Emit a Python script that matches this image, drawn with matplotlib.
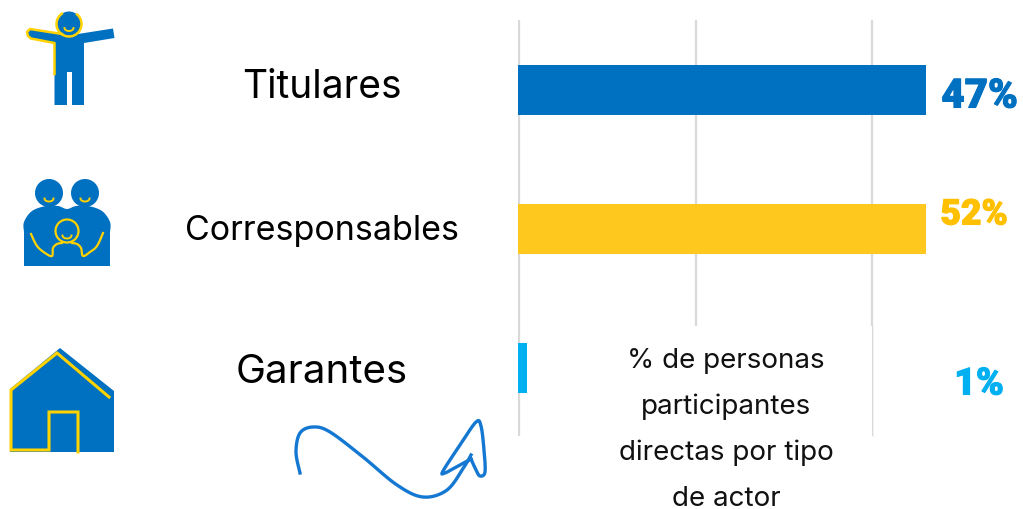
import numpy as np
import matplotlib
matplotlib.use("Agg")
import matplotlib.pyplot as plt
import matplotlib.patheffects as pe
from matplotlib.patches import Circle, Polygon, Rectangle

# ----------------------- Datos ------------------------
actores = ["Titulares", "Corresponsables", "Garantes"]
porcentajes = [47, 52, 1]
colores = ["#0070C0", "#FFC81E", "#00B0F0"]
colores_etiqueta = ["#0070C0", "#FFC000", "#00B0F0"]
nota = ["% de personas", "participantes", "directas por tipo", "de actor"]

AZUL = "#0070C0"
AMARILLO = "#FFD200"
W, H = 1023, 510
FUENTE = "Inter"

fig = plt.figure(figsize=(W / 100, H / 100), dpi=100, facecolor="white")

# ----------------------- Barras ------------------------
# el eje termina en 47, por eso la barra de 52 queda recortada igual que en el original
ax = fig.add_axes([518 / W, 1 - 437 / H, (926 - 518) / W, (437 - 21) / H])
ax.barh(range(3), porcentajes, height=0.36, color=colores, zorder=3)
ax.set_xlim(0, 47)
ax.set_ylim(2.49, -0.504)
ax.set_xticks([0.1, 20.5, 40.8])
ax.set_yticks([])
ax.tick_params(length=0, labelbottom=False)
ax.grid(axis="x", color="#D9D9D9", linewidth=1.6, zorder=0)
ax.set_axisbelow(True)
ax.patch.set_alpha(0)
for s in ax.spines.values():
    s.set_visible(False)

# ----------------------- Capa en pixeles ------------------------
capa = fig.add_axes([0, 0, 1, 1], zorder=5)
capa.set_xlim(0, W)
capa.set_ylim(H - 1, -1)
capa.axis("off")
capa.patch.set_alpha(0)

# caja blanca de la nota, tapa la rejilla
capa.add_patch(Rectangle((529, 326), 343, 112, fc="white", ec="none", zorder=1))
capa.plot([873, 873], [326, 437], color="#F2F2F2", lw=0.8, zorder=1)

def suave(pts, n=12):
    # curva que pasa por los puntos (catmull-rom)
    p = np.array(pts, dtype=float)
    p = np.vstack([p[0], p, p[-1]])
    out = []
    for i in range(1, len(p) - 2):
        for t in np.linspace(0, 1, n, endpoint=False):
            a = 2 * p[i] + (p[i + 1] - p[i - 1]) * t
            b = (2 * p[i - 1] - 5 * p[i] + 4 * p[i + 1] - p[i + 2]) * t ** 2
            c = (3 * p[i] - p[i - 1] - 3 * p[i + 1] + p[i + 2]) * t ** 3
            out.append(0.5 * (a + b + c))
    out.append(p[-2])
    return np.array(out)

def sonrisa(x, y, ancho=4.5, alto=3):
    t = np.linspace(0, np.pi, 20)
    capa.plot(x + ancho * np.cos(t), y + alto * np.sin(t), color=AMARILLO, lw=1.4, zorder=4)

# ----------------------- Icono titular ------------------------
capa.add_patch(Circle((69, 24), 12.5, fc=AZUL, ec="none", zorder=2))
cuerpo = [(54.5, 43), (31, 38.5), (28, 36), (27, 32), (30, 29), (62, 34), (78, 34), (113, 28.5), (114.5, 38),
          (84, 43), (84, 105), (72, 105), (72, 72), (67, 72), (67, 105), (54.5, 105)]
capa.add_patch(Polygon(cuerpo, closed=True, fc=AZUL, ec="none", zorder=2))
t = np.radians(np.linspace(125, 410, 40))
capa.plot(69 + 12.5 * np.cos(t), 24 - 12.5 * np.sin(t), color=AMARILLO, lw=1.8, zorder=3)
capa.plot([62, 30, 27, 28, 31, 54.5, 54.5], [34, 29, 32, 36, 38.5, 43, 74], color=AMARILLO, lw=1.8, zorder=3)
sonrisa(69, 28)

# ----------------------- Icono corresponsables ------------------------
capa.add_patch(Circle((49, 193), 14, fc=AZUL, ec="none", zorder=2))
capa.add_patch(Circle((85, 193), 14, fc=AZUL, ec="none", zorder=2))
hombros = suave([(24, 232), (24, 222), (32, 211), (46, 206), (58, 206), (67, 209), (76, 206), (88, 206),
                 (102, 211), (110, 222), (110, 232)])
capa.add_patch(Polygon(np.vstack([hombros, [(110, 266), (24, 266)]]), closed=True, fc=AZUL, ec="none", zorder=2))
izq = suave([(31, 234), (37, 246), (45, 253), (52, 256), (53, 248), (57, 244), (62, 243)])
der = suave([(103, 233), (97, 246), (90, 252), (83, 256), (81, 248), (77, 244), (72, 243)])
capa.plot(izq[:, 0], izq[:, 1], color=AMARILLO, lw=1.6, zorder=3)
capa.plot(der[:, 0], der[:, 1], color=AMARILLO, lw=1.6, zorder=3)
capa.add_patch(Circle((67, 231), 11.5, fc="none", ec=AMARILLO, lw=1.6, zorder=3))
sonrisa(49, 198.5)
sonrisa(85, 198.5)
sonrisa(67, 235.5)

# ----------------------- Icono garantes ------------------------
casa = [(10, 389), (60, 348), (114, 391), (114, 452), (10, 452)]
capa.add_patch(Polygon(casa, closed=True, fc=AZUL, ec="none", zorder=2))
capa.plot([109, 57, 11, 11, 49, 49, 78, 78], [397, 353, 390, 450, 450, 412, 412, 452],
          color=AMARILLO, lw=2.2, solid_joinstyle="miter", zorder=3)

# ----------------------- Flecha ------------------------
trazo = suave([(300, 473), (296, 452), (300, 433), (313, 427), (330, 432), (363, 457), (397, 485),
               (423, 497), (447, 490), (464, 467), (471, 455)])
punta = suave([(471, 459), (458, 466), (445, 473), (443, 471), (460, 445), (476, 422), (481, 426),
               (484, 450), (485, 472), (480, 476), (476, 470), (471, 459)])
AZUL_FLECHA = "#1478D2"
capa.plot(trazo[:, 0], trazo[:, 1], color=AZUL_FLECHA, lw=2.4, zorder=3)
capa.plot(punta[:, 0], punta[:, 1], color=AZUL_FLECHA, lw=2.4, zorder=3)

# ----------------------- Textos ------------------------
capa.text(322, 87, actores[0], fontsize=28, family=FUENTE, ha="center", va="center", color="black", zorder=6)
capa.text(322, 230.5, actores[1], fontsize=24.5, family=FUENTE, ha="center", va="center", color="black", zorder=6)
capa.text(322, 372, actores[2], fontsize=29, family=FUENTE, ha="center", va="center", color="black", zorder=6)

ys_nota = [360, 406, 452, 498]
for linea, y in zip(nota, ys_nota):
    capa.text(726, y, linea, fontsize=20, family=FUENTE, ha="center", va="center", color="#111111", zorder=6)

xs_et = [979.5, 974, 979]
ys_et = [96, 215, 384]
tam_et = [29, 25.5, 27]
for v, c, x, y, s in zip(porcentajes, colores_etiqueta, xs_et, ys_et, tam_et):
    et = capa.text(x, y, f"{v}%", fontsize=s, family="Roboto", fontweight="black", ha="center", va="center",
                   color=c, zorder=6)
    et.set_path_effects([pe.withStroke(linewidth=0.8, foreground=c)])

fig.savefig("out.png", dpi=100, facecolor="white")
